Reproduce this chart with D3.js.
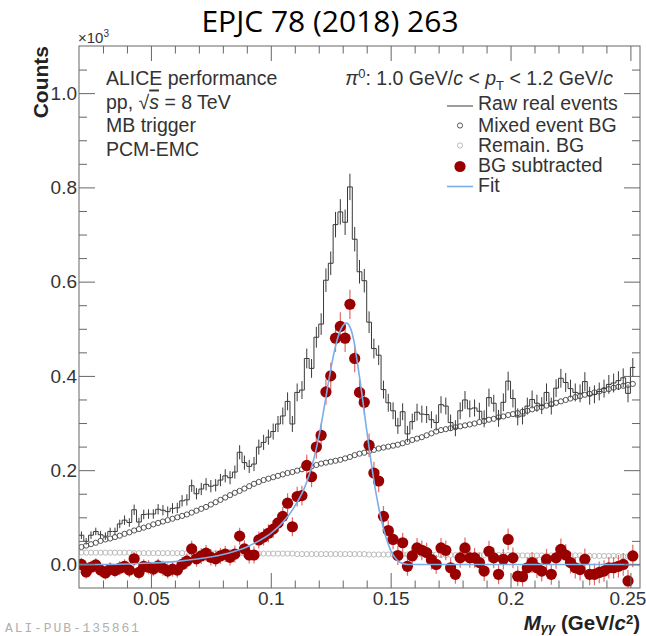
<!DOCTYPE html>
<html>
<head>
<meta charset="utf-8">
<script src="https://cdn.jsdelivr.net/npm/d3@7"></script>
<style>
  body { margin: 0; background: #fff; }
  svg { display: block; }
  text { font-family: "Liberation Sans", Arial, Helvetica, sans-serif; }
</style>
</head>
<body>
<svg id="chart" width="646" height="636"></svg>
<script>
// ---- π0 invariant-mass bins (GeV/c^2, bin centres) ----
const massBins = [
  0.021,0.023,0.025,0.027,0.029,0.031,0.033,0.035,0.037,0.039,
  0.041,0.043,0.045,0.047,0.049,0.051,0.053,0.055,0.057,0.059,
  0.061,0.063,0.065,0.067,0.069,0.071,0.073,0.075,0.077,0.079,
  0.081,0.083,0.085,0.087,0.089,0.091,0.093,0.095,0.097,0.099,
  0.101,0.103,0.105,0.107,0.109,0.111,0.113,0.115,0.117,0.119,
  0.121,0.123,0.125,0.127,0.129,0.131,0.133,0.135,0.137,0.139,
  0.141,0.143,0.145,0.147,0.149,0.151,0.153,0.155,0.157,0.159,
  0.161,0.163,0.165,0.167,0.169,0.171,0.173,0.175,0.177,0.179,
  0.181,0.183,0.185,0.187,0.189,0.191,0.193,0.195,0.197,0.199,
  0.201,0.203,0.205,0.207,0.209,0.211,0.213,0.215,0.217,0.219,
  0.221,0.223,0.225,0.227,0.229,0.231,0.233,0.235,0.237,0.239,
  0.241,0.243,0.245,0.247,0.249,0.251
];
const binHalfWidth = 0.001;

// Raw real events (counts x10^3) and their statistical errors
const rawCounts = [
  0.062,0.049,0.062,0.070,0.063,0.060,0.070,0.070,0.086,0.094,
  0.089,0.116,0.090,0.106,0.107,0.107,0.117,0.115,0.112,0.119,
  0.120,0.135,0.137,0.167,0.150,0.160,0.170,0.166,0.168,0.179,
  0.188,0.184,0.196,0.238,0.216,0.208,0.213,0.249,0.259,0.270,
  0.282,0.298,0.315,0.346,0.298,0.365,0.370,0.437,0.416,0.482,
  0.510,0.603,0.639,0.721,0.748,0.726,0.801,0.690,0.621,0.602,
  0.514,0.458,0.444,0.371,0.343,0.326,0.294,0.324,0.277,0.303,
  0.323,0.319,0.318,0.307,0.301,0.339,0.336,0.301,0.289,0.326,
  0.349,0.330,0.332,0.325,0.309,0.354,0.342,0.310,0.344,0.389,
  0.352,0.313,0.315,0.336,0.350,0.342,0.337,0.365,0.336,0.374,
  0.395,0.386,0.373,0.365,0.363,0.388,0.358,0.361,0.367,0.373,
  0.382,0.385,0.390,0.396,0.363,0.418
];
const rawErrors = [
  0.008,0.007,0.008,0.008,0.008,0.008,0.008,0.008,0.009,0.010,
  0.009,0.011,0.009,0.010,0.010,0.010,0.011,0.011,0.011,0.011,
  0.011,0.012,0.012,0.013,0.012,0.013,0.013,0.013,0.013,0.013,
  0.014,0.014,0.014,0.015,0.015,0.014,0.015,0.016,0.016,0.016,
  0.017,0.017,0.018,0.019,0.017,0.019,0.019,0.021,0.020,0.022,
  0.023,0.025,0.025,0.027,0.027,0.027,0.028,0.026,0.025,0.025,
  0.023,0.021,0.021,0.019,0.019,0.018,0.017,0.018,0.017,0.017,
  0.018,0.018,0.018,0.018,0.017,0.018,0.018,0.017,0.017,0.018,
  0.019,0.018,0.018,0.018,0.018,0.019,0.018,0.018,0.019,0.020,
  0.019,0.018,0.018,0.018,0.019,0.018,0.018,0.019,0.018,0.019,
  0.020,0.020,0.019,0.019,0.019,0.020,0.019,0.019,0.019,0.019,
  0.020,0.020,0.020,0.020,0.019,0.020
];

// Mixed-event background
const mixedBG = [
  0.037,0.040,0.043,0.046,0.050,0.053,0.055,0.058,0.061,0.065,
  0.068,0.072,0.075,0.078,0.081,0.085,0.088,0.091,0.094,0.097,
  0.100,0.103,0.106,0.110,0.114,0.118,0.122,0.127,0.132,0.137,
  0.142,0.147,0.152,0.156,0.161,0.166,0.171,0.175,0.179,0.182,
  0.185,0.188,0.191,0.194,0.196,0.199,0.202,0.205,0.208,0.211,
  0.214,0.216,0.218,0.220,0.222,0.225,0.228,0.232,0.235,0.237,
  0.240,0.243,0.246,0.248,0.250,0.252,0.254,0.257,0.260,0.264,
  0.267,0.270,0.274,0.278,0.282,0.285,0.287,0.289,0.291,0.293,
  0.295,0.297,0.299,0.302,0.304,0.307,0.309,0.312,0.314,0.317,
  0.319,0.321,0.324,0.326,0.329,0.332,0.334,0.337,0.340,0.343,
  0.346,0.349,0.352,0.355,0.357,0.360,0.362,0.365,0.367,0.370,
  0.372,0.375,0.377,0.379,0.381,0.383
];

// Remaining (residual) background
const remainBG = [
  0.025,0.025,0.025,0.025,0.025,0.025,0.025,0.025,0.025,0.025,
  0.025,0.024,0.024,0.024,0.024,0.024,0.024,0.024,0.024,0.024,
  0.024,0.024,0.024,0.024,0.024,0.024,0.024,0.024,0.024,0.024,
  0.023,0.023,0.023,0.023,0.023,0.023,0.023,0.023,0.023,0.023,
  0.023,0.023,0.023,0.023,0.023,0.022,0.022,0.022,0.022,0.022,
  0.022,0.022,0.022,0.022,0.022,0.022,0.022,0.022,0.022,0.022,
  0.021,0.021,0.021,0.021,0.021,0.021,0.021,0.021,0.021,0.021,
  0.021,0.021,0.021,0.021,0.021,0.020,0.020,0.020,0.020,0.020,
  0.020,0.020,0.020,0.020,0.020,0.020,0.020,0.020,0.020,0.020,
  0.019,0.019,0.019,0.019,0.019,0.019,0.019,0.019,0.019,0.019,
  0.019,0.019,0.019,0.019,0.019,0.018,0.018,0.018,0.018,0.018,
  0.018,0.018,0.018,0.017,0.017,0.017
];

// Background-subtracted signal and errors
const bgSubtracted = [
  0.000,-0.016,-0.006,-0.001,-0.012,-0.018,-0.010,-0.013,-0.008,-0.004,
  -0.012,0.012,-0.017,-0.004,-0.006,-0.010,-0.003,-0.008,-0.014,-0.010,
  -0.012,0.000,0.007,0.033,0.012,0.018,0.024,0.015,0.012,0.018,
  0.022,0.015,0.022,0.060,0.033,0.020,0.020,0.052,0.058,0.066,
  0.075,0.088,0.102,0.130,0.080,0.144,0.146,0.210,0.186,0.249,
  0.274,0.366,0.400,0.480,0.505,0.480,0.552,0.437,0.365,0.344,
  0.253,0.194,0.177,0.102,0.072,0.053,0.019,0.046,-0.004,0.018,
  0.035,0.030,0.025,0.010,0.000,0.035,0.030,-0.007,-0.021,0.014,
  0.035,0.014,0.014,0.004,-0.014,0.028,0.014,-0.021,0.011,0.053,
  0.014,-0.025,-0.026,-0.007,0.004,-0.007,-0.014,0.011,-0.021,0.014,
  0.032,0.020,0.004,-0.007,-0.011,0.011,-0.021,-0.021,-0.017,-0.014,
  -0.007,-0.007,-0.004,0.000,-0.035,0.018
];
const bgSubErrors = [
  0.014,0.014,0.014,0.014,0.014,0.014,0.014,0.014,0.015,0.015,
  0.015,0.015,0.015,0.015,0.015,0.015,0.015,0.016,0.016,0.016,
  0.016,0.016,0.016,0.017,0.017,0.017,0.017,0.017,0.017,0.017,
  0.017,0.017,0.018,0.018,0.018,0.018,0.018,0.018,0.018,0.019,
  0.019,0.019,0.020,0.021,0.020,0.021,0.021,0.023,0.022,0.024,
  0.025,0.027,0.028,0.029,0.030,0.029,0.031,0.029,0.028,0.027,
  0.025,0.024,0.024,0.022,0.021,0.021,0.020,0.021,0.020,0.020,
  0.021,0.021,0.021,0.021,0.020,0.021,0.021,0.020,0.020,0.021,
  0.022,0.021,0.021,0.021,0.021,0.022,0.022,0.021,0.022,0.023,
  0.022,0.021,0.021,0.022,0.022,0.022,0.022,0.022,0.022,0.023,
  0.023,0.023,0.023,0.023,0.023,0.023,0.023,0.023,0.023,0.023,
  0.023,0.023,0.024,0.024,0.023,0.024
];

// Peak fit, sampled along the mass axis
const fitMass = [0.020,0.030,0.040,0.050,0.060,0.070,0.080,0.085,0.090,0.095,
  0.100,0.104,0.108,0.111,0.114,0.116,0.118,0.120,0.122,0.124,0.126,0.128,
  0.130,0.1315,0.133,0.1345,0.136,0.138,0.140,0.142,0.144,0.146,0.148,0.150,
  0.152,0.154,0.157,0.160,0.200,0.254];
const fitValue = [0.000,0.000,0.001,0.003,0.006,0.012,0.021,0.028,0.037,0.050,
  0.066,0.084,0.108,0.132,0.162,0.190,0.225,0.270,0.325,0.385,0.440,0.482,
  0.506,0.512,0.504,0.478,0.432,0.362,0.285,0.212,0.148,0.097,0.058,0.030,
  0.013,0.004,0.000,0.000,0.000,0.000];

// Axis ticks and labels
const xMajorTicks = [0.05, 0.10, 0.15, 0.20, 0.25];
const xTickLabels = ["0.05", "0.1", "0.15", "0.2", "0.25"];
const xMinorTicks = [0.03,0.04,0.06,0.07,0.08,0.09,0.11,0.12,0.13,0.14,0.16,0.17,0.18,0.19,0.21,0.22,0.23,0.24];
const yMajorTicks = [0.0, 0.2, 0.4, 0.6, 0.8, 1.0];
const yTickLabels = ["0.0", "0.2", "0.4", "0.6", "0.8", "1.0"];
const yMinorTicks = [0.05,0.10,0.15,0.25,0.30,0.35,0.45,0.50,0.55,0.65,0.70,0.75,0.85,0.90,0.95,1.05];

const legendLabels = ["Raw real events", "Mixed event BG", "Remain. BG", "BG subtracted", "Fit"];
const infoLines = ["ALICE performance", "pp, \u221As = 8 TeV", "MB trigger", "PCM-EMC"];

// ---- layout ----
const frame = { left: 79, right: 640, top: 46, bottom: 588 };
const colors = {
  frame: "#666", text: "#333", raw: "#3a3a3a", mixed: "#444", remain: "#b5b5b5",
  sub: "#990000", subErr: "#e06a6a", fit: "#7aaee6"
};

const svg = d3.select("#chart");
const x = d3.scaleLinear().domain([0.02, 0.254]).range([frame.left, frame.right]);
const y = d3.scaleLinear().domain([-0.05, 1.1]).range([frame.bottom, frame.top]);

svg.append("defs").append("clipPath").attr("id", "frameClip")
  .append("rect").attr("x", frame.left).attr("y", frame.top)
  .attr("width", frame.right - frame.left).attr("height", frame.bottom - frame.top);

const bins = massBins.map((m, i) => ({
  m, raw: rawCounts[i], rawErr: rawErrors[i], mixed: mixedBG[i],
  remain: remainBG[i], sub: bgSubtracted[i], subErr: bgSubErrors[i]
}));

const plot = svg.append("g").attr("clip-path", "url(#frameClip)");

// raw histogram outline
const stepPts = [];
bins.forEach(b => { stepPts.push([b.m - binHalfWidth, b.raw]); stepPts.push([b.m + binHalfWidth, b.raw]); });
plot.append("path")
  .attr("d", d3.line().x(d => x(d[0])).y(d => y(d[1]))(stepPts))
  .attr("fill", "none").attr("stroke", colors.raw).attr("stroke-width", 1);
plot.append("g").selectAll("line").data(bins).join("line")
  .attr("x1", d => x(d.m)).attr("x2", d => x(d.m))
  .attr("y1", d => y(d.raw - d.rawErr)).attr("y2", d => y(d.raw + d.rawErr))
  .attr("stroke", colors.raw).attr("stroke-width", 1);

// mixed-event background
plot.append("g").selectAll("circle").data(bins).join("circle")
  .attr("cx", d => x(d.m)).attr("cy", d => y(d.mixed)).attr("r", 2.6)
  .attr("fill", "none").attr("stroke", colors.mixed).attr("stroke-width", 0.9);

// remaining background
plot.append("g").selectAll("circle").data(bins).join("circle")
  .attr("cx", d => x(d.m)).attr("cy", d => y(d.remain)).attr("r", 2.6)
  .attr("fill", "none").attr("stroke", colors.remain).attr("stroke-width", 0.9);

// background-subtracted signal
plot.append("g").selectAll("line").data(bins).join("line")
  .attr("x1", d => x(d.m)).attr("x2", d => x(d.m))
  .attr("y1", d => y(d.sub - d.subErr)).attr("y2", d => y(d.sub + d.subErr))
  .attr("stroke", colors.subErr).attr("stroke-width", 1.2);
plot.append("g").selectAll("circle").data(bins).join("circle")
  .attr("cx", d => x(d.m)).attr("cy", d => y(d.sub)).attr("r", 5.6)
  .attr("fill", colors.sub);

// fit
plot.append("path")
  .attr("d", d3.line().x((d, i) => x(fitMass[i])).y(d => y(d)).curve(d3.curveMonotoneX)(fitValue))
  .attr("fill", "none").attr("stroke", colors.fit).attr("stroke-width", 1.6);

// ---- axes (ticks pointing into the frame) ----
function styleAxis(g) {
  g.select(".domain").remove();
  g.selectAll(".tick line").attr("stroke", colors.frame);
  g.selectAll(".tick text").attr("fill", colors.text)
    .style("font-family", "'Liberation Sans', Arial, sans-serif").style("font-size", "19px");
}
const bottomY = frame.bottom, topY = frame.top;
const xLabelAxis = svg.append("g").attr("transform", `translate(0,${bottomY})`)
  .call(d3.axisBottom(x).tickValues(xMajorTicks).tickSize(-15).tickPadding(4)
    .tickFormat((d, i) => xTickLabels[i])).call(styleAxis);
// keep the last label inside the page edge
xLabelAxis.selectAll(".tick text").filter((d, i) => i === xMajorTicks.length - 1).attr("dx", -3);
svg.append("g").attr("transform", `translate(0,${bottomY})`)
  .call(d3.axisBottom(x).tickValues(xMinorTicks).tickSize(-7.5).tickFormat("")).call(styleAxis);
svg.append("g").attr("transform", `translate(0,${topY})`)
  .call(d3.axisTop(x).tickValues(xMajorTicks).tickSize(-15).tickFormat("")).call(styleAxis);
svg.append("g").attr("transform", `translate(0,${topY})`)
  .call(d3.axisTop(x).tickValues(xMinorTicks).tickSize(-7.5).tickFormat("")).call(styleAxis);

svg.append("g").attr("transform", `translate(${frame.left},0)`)
  .call(d3.axisLeft(y).tickValues(yMajorTicks).tickSize(-16).tickPadding(2)
    .tickFormat((d, i) => yTickLabels[i])).call(styleAxis);
svg.append("g").attr("transform", `translate(${frame.left},0)`)
  .call(d3.axisLeft(y).tickValues(yMinorTicks).tickSize(-8).tickFormat("")).call(styleAxis);
svg.append("g").attr("transform", `translate(${frame.right},0)`)
  .call(d3.axisRight(y).tickValues(yMajorTicks).tickSize(-16).tickFormat("")).call(styleAxis);
svg.append("g").attr("transform", `translate(${frame.right},0)`)
  .call(d3.axisRight(y).tickValues(yMinorTicks).tickSize(-8).tickFormat("")).call(styleAxis);

svg.append("rect").attr("x", frame.left).attr("y", frame.top)
  .attr("width", frame.right - frame.left).attr("height", frame.bottom - frame.top)
  .attr("fill", "none").attr("stroke", colors.frame).attr("stroke-width", 1);

// ---- titles ----
svg.append("text").attr("x", 330).attr("y", 32)
  .attr("text-anchor", "middle").style("font-family", "'Open Sans', sans-serif")
  .style("font-size", "30px").attr("fill", "#000").text("EPJC 78 (2018) 263");

svg.append("text").attr("transform", "translate(48,46) rotate(-90)")
  .attr("text-anchor", "end").style("font-weight", "bold").style("font-size", "21px")
  .attr("fill", "#222").text("Counts");

const exp = svg.append("text").attr("x", 78).attr("y", 43).style("font-size", "15px").attr("fill", colors.text);
exp.append("tspan").text("\u00d710");
exp.append("tspan").attr("dy", -6).style("font-size", "10px").text("3");

const xt = svg.append("text").attr("x", 640).attr("y", 630).attr("text-anchor", "end")
  .style("font-weight", "bold").style("font-size", "20.5px").attr("fill", "#222");
xt.append("tspan").style("font-style", "italic").text("M");
xt.append("tspan").attr("dy", 2).style("font-size", "13px").style("font-style", "italic").text("\u03b3\u03b3");
xt.append("tspan").attr("dy", -2).text(" (GeV/");
xt.append("tspan").style("font-style", "italic").text("c");
xt.append("tspan").attr("dy", -6.5).style("font-size", "13px").text("2");
xt.append("tspan").attr("dy", 6.5).text(")");

svg.append("text").attr("x", 5).attr("y", 632)
  .style("font-family", "'Liberation Mono', 'DejaVu Sans Mono', monospace")
  .style("font-size", "13px").style("letter-spacing", "1.9px")
  .attr("fill", "#b0b0b0").text("ALI-PUB-135861");

// ---- info text ----
const infoFont = "19.5px";
const infoBase = [85, 108.5, 132, 155.5];
infoLines.forEach((t, i) => {
  const el = svg.append("text").attr("x", 106).attr("y", infoBase[i])
    .style("font-size", infoFont).attr("fill", colors.text);
  if (i === 1) {
    el.append("tspan").text("pp, \u221A");
    el.append("tspan").style("font-style", "italic").style("text-decoration", "overline").text("s");
    el.append("tspan").text(" = 8 TeV");
  } else {
    el.text(t);
  }
});

const pt = svg.append("text").attr("x", 613).attr("y", 85).attr("text-anchor", "end")
  .style("font-size", infoFont).attr("fill", colors.text);
pt.append("tspan").style("font-style", "italic").text("\u03c0");
pt.append("tspan").attr("dy", -7).style("font-size", "13px").text("0");
pt.append("tspan").attr("dy", 7).text(": 1.0 GeV/");
pt.append("tspan").style("font-style", "italic").text("c");
pt.append("tspan").text(" < ");
pt.append("tspan").style("font-style", "italic").text("p");
pt.append("tspan").attr("dy", 5).style("font-size", "13px").text("T");
pt.append("tspan").attr("dy", -5).text(" < 1.2 GeV/");
pt.append("tspan").style("font-style", "italic").text("c");

// ---- legend ----
const legBase = [110, 131.5, 151.5, 171.5, 191.5];
const legSymX = 460;
const leg = svg.append("g");
legendLabels.forEach((t, i) => {
  leg.append("text").attr("x", 478).attr("y", legBase[i])
    .style("font-size", infoFont).attr("fill", colors.text).text(t);
});
leg.append("line").attr("x1", 447).attr("x2", 473).attr("y1", legBase[0] - 4).attr("y2", legBase[0] - 4)
  .attr("stroke", colors.raw).attr("stroke-width", 1);
leg.append("circle").attr("cx", legSymX).attr("cy", legBase[1] - 6).attr("r", 2.6)
  .attr("fill", "none").attr("stroke", colors.mixed).attr("stroke-width", 0.9);
leg.append("circle").attr("cx", legSymX).attr("cy", legBase[2] - 6).attr("r", 2.6)
  .attr("fill", "none").attr("stroke", colors.remain).attr("stroke-width", 0.9);
leg.append("circle").attr("cx", legSymX).attr("cy", legBase[3] - 5).attr("r", 5.6)
  .attr("fill", colors.sub);
leg.append("line").attr("x1", 447).attr("x2", 473).attr("y1", legBase[4] - 5).attr("y2", legBase[4] - 5)
  .attr("stroke", colors.fit).attr("stroke-width", 1.6);
</script>
</body>
</html>
